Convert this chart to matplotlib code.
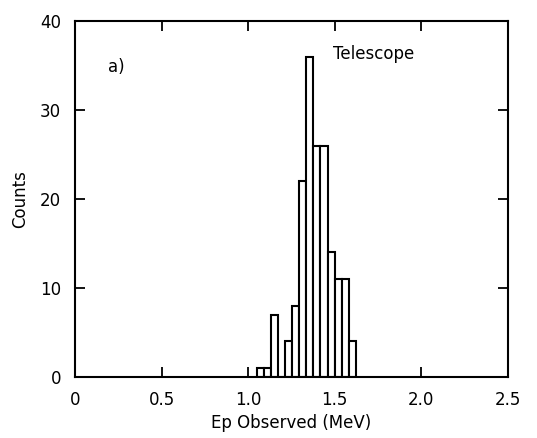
import numpy as np
import matplotlib.pyplot as plt

# histogram (bin width ~0.041 MeV)
bin_start = 1.048
bin_width = 0.041
counts = [1, 1, 7, 0, 4, 8, 22, 36, 26, 26, 14, 11, 11, 4]

x_ticks = [0, 0.5, 1.0, 1.5, 2.0, 2.5]
x_tick_labels = ['0', '0.5', '1.0', '1.5', '2.0', '2.5']
y_ticks = [0, 10, 20, 30, 40]

fig = plt.figure(figsize=(5.37, 4.38), dpi=100)
ax = fig.add_axes([75 / 537, 1 - 377 / 438, 433 / 537, 356 / 438])

lefts = bin_start + bin_width * np.arange(len(counts))
ax.bar(lefts, counts, width=bin_width, align='edge', facecolor='white',
       edgecolor='black', linewidth=1.5)

ax.set_xlim(0, 2.5)
ax.set_ylim(0, 40)
ax.set_xticks(x_ticks)
ax.set_xticklabels(x_tick_labels)
ax.set_yticks(y_ticks)
ax.tick_params(direction='in', top=True, right=True, length=7, width=1.3,
               labelsize=12, pad=10)
for s in ax.spines.values():
    s.set_linewidth(1.5)

ax.set_xlabel('Ep Observed (MeV)', fontsize=12, labelpad=4)
ax.set_ylabel('Counts', fontsize=12, labelpad=8)

ax.text(0.19, 34.8, 'a)', fontsize=12, ha='left', va='center')
ax.text(1.49, 36.3, 'Telescope', fontsize=12, ha='left', va='center')

fig.savefig('out.png', dpi=100, facecolor='white')
